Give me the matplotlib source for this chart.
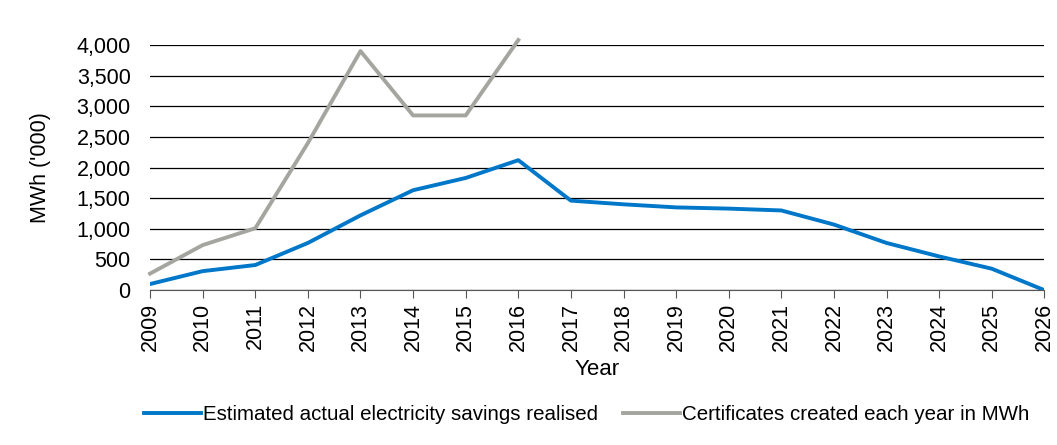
import matplotlib
matplotlib.use("Agg")
import matplotlib.pyplot as plt
from matplotlib.ticker import FuncFormatter

plt.rcParams['font.family'] = ['Liberation Sans', 'DejaVu Sans']

years = list(range(2009, 2027))
savings = [100, 310, 410, 770, 1220, 1630, 1830, 2120, 1460, 1400, 1350, 1330,
           1300, 1070, 770, 550, 350, 0]
cert_years = list(range(2009, 2017))
certificates = [270, 735, 1010, 2400, 3900, 2850, 2850, 4080]

fig = plt.figure(figsize=(10.57, 4.45), dpi=100)
ax = fig.add_axes([0.142, 0.348, 0.846, 0.551])

ax.plot(years, savings, color='#0077C8', lw=2.8, label='Estimated actual electricity savings realised',
        solid_joinstyle='round', zorder=3)
ax.plot(cert_years, certificates, color='#A5A5A0', lw=2.8, label='Certificates created each year in MWh',
        solid_joinstyle='round', clip_on=False, zorder=3)

ax.set_xlim(2009, 2026)
ax.set_ylim(0, 4000)
ax.set_yticks(range(0, 4001, 500))
ax.yaxis.set_major_formatter(FuncFormatter(lambda v, p: f'{int(v):,}'))
ax.set_xticks(years)
ax.set_xticklabels([str(y) for y in years], rotation=90)
ax.grid(axis='y', color='#000000', lw=0.9)
ax.set_axisbelow(True)
for s in ['top', 'right', 'left']:
    ax.spines[s].set_visible(False)
ax.spines['bottom'].set_color('#555555')
ax.tick_params(axis='y', length=0, labelsize=15.5, pad=14)
ax.tick_params(axis='x', direction='out', length=6, color='#555555', labelsize=15.5, pad=3)
ax.set_ylabel("MWh ('000)", fontsize=15.5, labelpad=18)
ax.set_xlabel('Year', fontsize=16, labelpad=6)

fig.legend(loc='center', bbox_to_anchor=(0.555, 0.068), ncol=2, frameon=False, fontsize=14.8,
           handlelength=2.8, handletextpad=0.1, columnspacing=1.2)

fig.savefig('out.png', dpi=100)
